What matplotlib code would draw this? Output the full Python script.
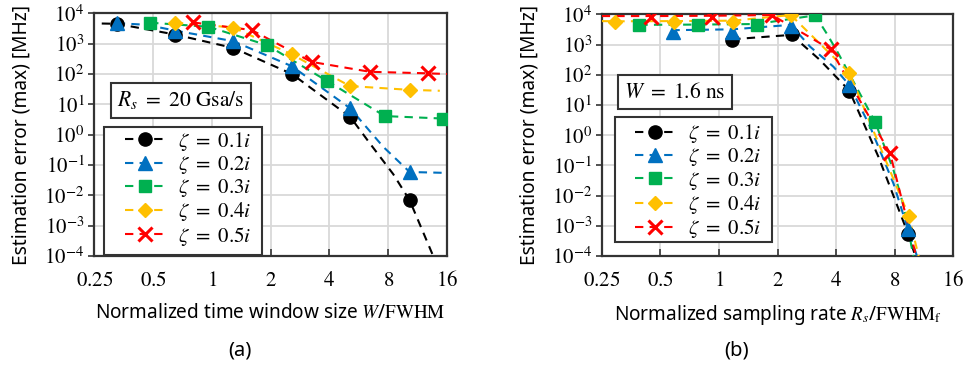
import matplotlib
matplotlib.use('Agg')
import numpy as np
import matplotlib.pyplot as plt
import matplotlib.patches as mpatches
from matplotlib.ticker import FixedLocator, NullLocator, LogLocator, FuncFormatter

plt.rcParams['font.family'] = ['Noto Sans', 'DejaVu Sans']
plt.rcParams['mathtext.fontset'] = 'stix'

# ─── Data (a): vs normalized time window size ───────────────────────────────
a_mk_x = {
    '0.1': [0.326, 0.647, 1.29, 2.57, 5.12, 10.3],
    '0.2': [0.326, 0.647, 1.29, 2.57, 5.12, 10.3],
    '0.3': [0.483, 0.96, 1.92, 3.87, 7.69, 15.3],
    '0.4': [0.647, 1.29, 2.57, 5.09, 10.3],
    '0.5': [0.80, 1.60, 3.24, 6.45, 12.8],
}
a_mk_y = {
    '0.1': [4.6e3, 1.9e3, 7.0e2, 1.0e2, 3.8, 6.9e-3],
    '0.2': [4.7e3, 2.7e3, 1.2e3, 1.8e2, 7.3, 0.059],
    '0.3': [4.9e3, 3.6e3, 8.9e2, 60, 4.1, 3.4],
    '0.4': [4.9e3, 3.4e3, 4.4e2, 40, 30],
    '0.5': [5.0e3, 2.8e3, 250, 118, 105],
}
# dashed fit curves
a_ln_x = {
    '0.1': [0.273, 0.326, 0.647, 1.29, 2.57, 5.12, 6.47, 8.49, 10.3, 13.6, 14.5],
    '0.2': [0.326, 0.46, 0.647, 1.29, 2.57, 5.12, 7.54, 10.3, 16],
    '0.3': [0.483, 0.96, 1.92, 3.87, 7.69, 15.3, 16],
    '0.4': [0.647, 1.29, 2.57, 5.09, 10.3, 14.7],
    '0.5': [0.80, 1.60, 3.24, 6.45, 12.8, 16],
}
a_ln_y = {
    '0.1': [4.6e3, 4.5e3, 2.0e3, 7.2e2, 1.0e2, 3.8, 0.5, 0.05, 6.9e-3, 1.0e-4, 2e-5],
    '0.2': [4.7e3, 4.2e3, 2.7e3, 1.2e3, 1.8e2, 7.3, 0.4, 0.059, 0.055],
    '0.3': [4.9e3, 3.6e3, 8.9e2, 60, 4.1, 3.4, 3.4],
    '0.4': [4.9e3, 3.4e3, 4.4e2, 40, 30, 28],
    '0.5': [5.0e3, 2.8e3, 250, 118, 105, 100],
}

# ─── Data (b): vs normalized sampling rate ──────────────────────────────────
b_mk_x = {
    '0.1': [1.17, 2.36, 4.67, 9.39],
    '0.2': [0.58, 1.17, 2.34, 4.67, 9.32],
    '0.3': [0.39, 0.78, 1.56, 3.12, 6.33],
    '0.4': [0.293, 0.59, 1.18, 2.34, 4.67, 9.45],
    '0.5': [0.45, 0.92, 1.87, 3.75, 7.57],
}
b_mk_y = {
    '0.1': [1.4e3, 2.2e3, 30, 5.2e-4],
    '0.2': [2.7e3, 2.7e3, 4.0e3, 46, 8.1e-4],
    '0.3': [4.5e3, 4.5e3, 4.6e3, 9.3e3, 2.8],
    '0.4': [5.7e3, 5.7e3, 5.7e3, 9.5e3, 118, 2.1e-3],
    '0.5': [8.3e3, 8.5e3, 9.5e3, 690, 0.25],
}
b_ln_x = {
    '0.1': [1.17, 2.36, 3.3, 4.67, 6.6, 9.39, 10.2, 10.6],
    '0.2': [0.57, 1.17, 2.34, 2.94, 3.87, 4.67, 5.98, 7.88, 9.32, 10.4, 10.8],
    '0.3': [0.39, 0.78, 1.56, 3.12, 3.58, 4.1, 6.33, 7.88, 8.9, 9.97, 10.4],
    '0.4': [0.25, 0.293, 0.59, 1.18, 2.34, 4.67, 9.45, 10.6, 11.0],
    '0.5': [0.25, 0.45, 0.92, 1.87, 3.75, 7.57, 10.3, 10.7],
}
b_ln_y = {
    '0.1': [1.5e3, 2.1e3, 310, 30, 0.19, 5.2e-4, 1e-4, 3e-5],
    '0.2': [3.0e3, 3.2e3, 4.5e3, 850, 186, 46, 1.9, 0.025, 8.1e-4, 1e-4, 3e-5],
    '0.3': [4.5e3, 4.6e3, 4.8e3, 9.3e3, 2.3e3, 515, 2.8, 0.07, 4.3e-3, 1e-4, 3e-5],
    '0.4': [6.0e3, 5.9e3, 6.0e3, 6.2e3, 9.5e3, 118, 2.1e-3, 1e-4, 3e-5],
    '0.5': [8.8e3, 8.8e3, 9.0e3, 9.5e3, 690, 0.25, 1e-4, 3e-5],
}

zetas = ['0.1', '0.2', '0.3', '0.4', '0.5']
x_ticks = [0.25, 0.5, 1, 2, 4, 8, 16]
x_ticklabels = ['0.25', '0.5', '1', '2', '4', '8', '16']

# ─── Styles ─────────────────────────────────────────────────────────────────
COLORS = {'0.1': '#000000', '0.2': '#0070C0', '0.3': '#00B050',
          '0.4': '#FFC000', '0.5': '#FF0000'}
MARKERS = {'0.1': dict(marker='o', ms=9.5),
           '0.2': dict(marker='^', ms=10),
           '0.3': dict(marker='s', ms=8.5),
           '0.4': dict(marker='D', ms=7.5),
           '0.5': dict(marker='x', ms=10, mew=2.2)}
DASH = (0, (4, 3))
C_SPINE = '#333333'


def draw_panel(ax, mk_x, mk_y, ln_x, ln_y, boxtext, box_xy,
               leg_box, leg_center, xlabel):
    for z in zetas:
        c = COLORS[z]
        ax.plot(ln_x[z], ln_y[z], color=c, lw=1.5, ls=DASH, zorder=3)
        ax.plot(mk_x[z], mk_y[z], ls='none', color=c, zorder=4,
                **MARKERS[z])

    ax.set_xscale('log', base=2)
    ax.set_yscale('log')
    ax.set_xlim(0.25, 16)
    ax.set_ylim(1e-4, 1e4)
    ax.xaxis.set_major_locator(FixedLocator(x_ticks))
    ax.xaxis.set_minor_locator(NullLocator())
    ax.set_xticklabels([r'$%s$' % t for t in x_ticklabels])
    ax.yaxis.set_major_locator(LogLocator(base=10, numticks=20))
    ax.yaxis.set_minor_locator(NullLocator())
    ax.yaxis.set_major_formatter(FuncFormatter(
        lambda v, p: r'$10^{%d}$' % int(round(np.log10(v)))))
    ax.grid(True, color='#d9d9d9', lw=1.3, zorder=0)
    ax.set_axisbelow(True)
    ax.tick_params(axis='x', direction='in', length=5, width=1.2,
                   labelsize=15, pad=10, colors=C_SPINE, labelcolor='black')
    ax.tick_params(axis='y', direction='out', length=4, width=1.2,
                   labelsize=15, pad=3, colors=C_SPINE, labelcolor='black')
    for s in ax.spines.values():
        s.set_linewidth(1.6)
        s.set_color(C_SPINE)

    ax.set_xlabel(xlabel, fontsize=13.7, labelpad=9)
    ax.set_ylabel('Estimation error (max) [MHz]', fontsize=13.8)
    ax.yaxis.set_label_coords(-0.178, 0.5)

    ax.text(box_xy[0], box_xy[1], boxtext, transform=ax.transAxes,
            ha='center', va='center', fontsize=15.5, zorder=6,
            bbox=dict(boxstyle='square,pad=0.3', fc='white', ec=C_SPINE,
                      lw=1.5))

    # legend frame drawn by hand, entries placed inside it
    x0, y0, x1, y1 = leg_box
    ax.add_patch(mpatches.Rectangle((x0, y0), x1 - x0, y1 - y0,
                                    transform=ax.transAxes, fc='white',
                                    ec=C_SPINE, lw=1.5, zorder=6))
    handles = []
    for z in zetas:
        h, = ax.plot([], [], color=COLORS[z], lw=1.5, ls=DASH, **MARKERS[z])
        handles.append(h)
    labels = [r'$\zeta\ =\ %si$' % z for z in zetas]
    leg = ax.legend(handles, labels, loc='center',
                    bbox_to_anchor=leg_center, borderaxespad=0,
                    fontsize=15, handlelength=1.9, handletextpad=0.62,
                    labelspacing=0.06, borderpad=0.1, frameon=False)
    leg.set_zorder(7)


fig = plt.figure(figsize=(9.69, 3.69), dpi=100)
fig.patch.set_facecolor('white')
ax1 = fig.add_axes([0.0973, 0.306, 0.364, 0.658])
ax2 = fig.add_axes([0.621, 0.306, 0.3629, 0.655])

draw_panel(ax1, a_mk_x, a_mk_y, a_ln_x, a_ln_y,
           r'$R_s\ =\ 20\ \mathrm{Gsa/s}$', (0.245, 0.641),
           (0.028, 0.004, 0.476, 0.531), (0.266, 0.278),
           r'Normalized time window size $W$/$\mathrm{FWHM}$')
draw_panel(ax2, b_mk_x, b_mk_y, b_ln_x, b_ln_y,
           r'$W\ =\ 1.6\ \mathrm{ns}$', (0.209, 0.678),
           (0.038, 0.058, 0.484, 0.575), (0.274, 0.310),
           r'Normalized sampling rate $R_s$/$\mathrm{FWHM_f}$')

fig.text(0.2475, 0.05, '(a)', ha='center', va='center', fontsize=14.5)
fig.text(0.760, 0.05, '(b)', ha='center', va='center', fontsize=14.5)

fig.savefig('out.png', dpi=100, facecolor='white')
